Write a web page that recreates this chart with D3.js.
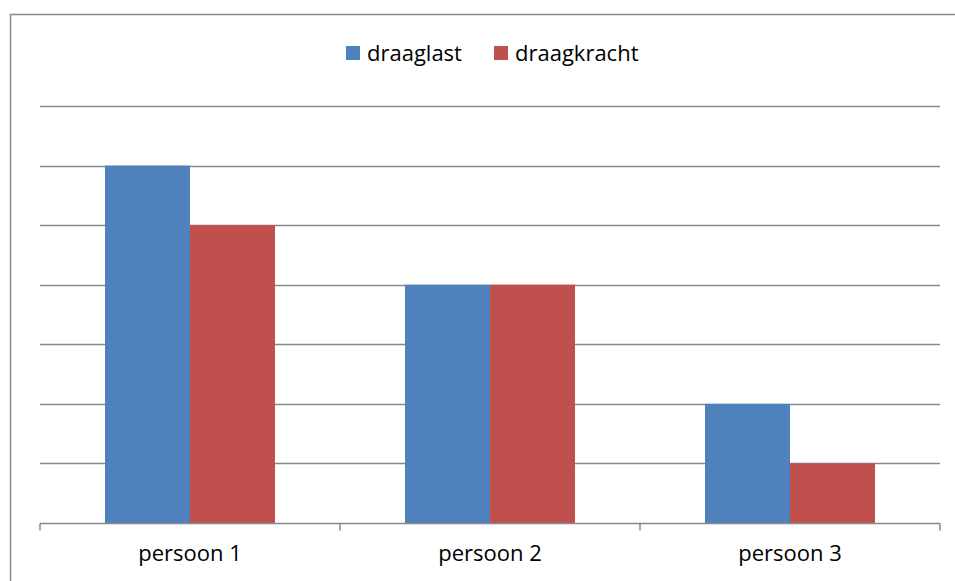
<!DOCTYPE html>
<html lang="nl">
<head>
  <meta charset="UTF-8">
  <title>draaglast en draagkracht</title>
  <style>
    body { margin: 0; background: #fff; }
    text { font-family: "Open Sans", "Noto Sans", sans-serif; fill: #000; }
  </style>
</head>
<body>
  <svg id="svg" width="955" height="581"></svg>

  <script src="https://d3js.org/d3.v7.min.js"></script>
  <script>
    const personen = ["persoon 1", "persoon 2", "persoon 3"]
    const series = ["draaglast", "draagkracht"]
    const draaglast = [6, 4, 2]
    const draagkracht = [5, 4, 1]
    const gridValues = [1, 2, 3, 4, 5, 6, 7]
    const colors = ["#4F81BD", "#C0504D"]

    const rows = personen.map((p, i) => ({ name: p, values: [draaglast[i], draagkracht[i]] }))

    const svg = d3.select("#svg")

    // chart border (bottom/right fall outside the picture)
    svg.append("rect")
      .attr("x", 10.5).attr("y", 14.5)
      .attr("width", 960).attr("height", 600)
      .attr("fill", "none")
      .attr("stroke", "#888")
      .attr("stroke-width", 1.5)

    const x = d3.scaleBand()
      .domain(personen)
      .range([40, 940])

    // two bars in the middle of each 300px band, gap of 65px each side
    const inner = d3.scaleBand()
      .domain(series)
      .range([65, x.bandwidth() - 65])

    const y = d3.scaleLinear()
      .domain([0, 7])
      .range([523, 106])

    // gridlines
    svg.append("g")
      .selectAll("line")
      .data(gridValues)
      .enter()
      .append("line")
      .attr("x1", 40).attr("x2", 940)
      .attr("y1", d => Math.round(y(d)) + 0.5)
      .attr("y2", d => Math.round(y(d)) + 0.5)
      .attr("stroke", "#888")
      .attr("stroke-width", 1.5)

    // bars
    const groups = svg.append("g")
      .selectAll("g")
      .data(rows)
      .enter()
      .append("g")
      .attr("transform", d => `translate(${x(d.name)},0)`)

    groups.selectAll("rect")
      .data(d => d.values.map((v, i) => ({ key: series[i], value: v })))
      .enter()
      .append("rect")
      .attr("x", d => inner(d.key))
      .attr("width", inner.bandwidth())
      .attr("y", d => y(d.value))
      .attr("height", d => y(0) - y(d.value))
      .attr("fill", (d, i) => colors[i])

    // x axis
    const xAxis = svg.append("g")
      .attr("transform", `translate(0,${y(0) + 0.5})`)

    xAxis.append("line")
      .attr("x1", 40).attr("x2", 940)
      .attr("stroke", "#888").attr("stroke-width", 1.5)

    const tickPos = personen.map(p => x(p)).concat([x.range()[1]])
    xAxis.selectAll(".tick")
      .data(tickPos)
      .enter()
      .append("line")
      .attr("x1", d => d).attr("x2", d => d)
      .attr("y1", 0).attr("y2", 7)
      .attr("stroke", "#888").attr("stroke-width", 1.5)

    xAxis.selectAll("text")
      .data(personen)
      .enter()
      .append("text")
      .attr("x", d => x(d) + x.bandwidth() / 2)
      .attr("y", 37)
      .attr("text-anchor", "middle")
      .style("font-size", "22px")
      .text(d => d)

    // legend
    const legendX = [346, 494]
    const legend = svg.append("g")
      .selectAll("g")
      .data(series)
      .enter()
      .append("g")
      .attr("transform", (d, i) => `translate(${legendX[i]},46)`)

    legend.append("rect")
      .attr("width", 14).attr("height", 14)
      .attr("fill", (d, i) => colors[i])

    legend.append("text")
      .attr("x", 21).attr("y", 15)
      .style("font-size", "22px")
      .text(d => d)
  </script>
</body>
</html>
